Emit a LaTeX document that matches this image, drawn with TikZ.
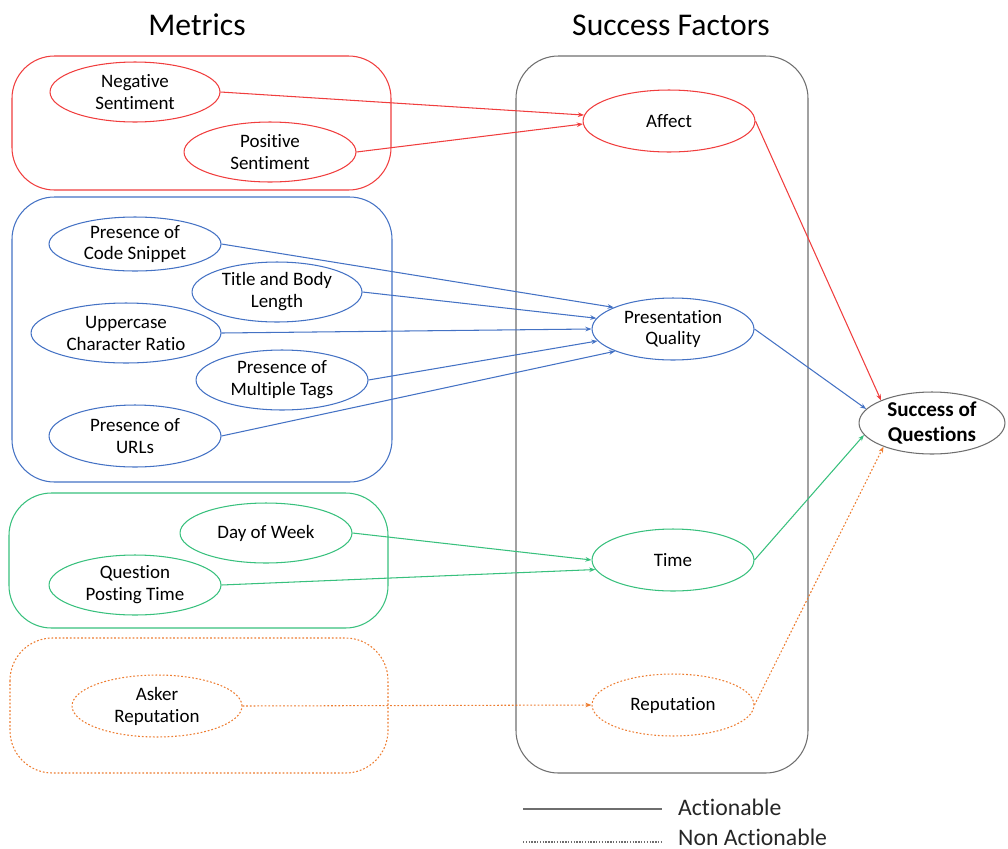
\documentclass[tikz,border=0pt]{standalone}
\usepackage{fontspec}
\setmainfont{Carlito}[Ligatures=NoCommon]
\usetikzlibrary{shapes.geometric,arrows.meta}
\definecolor{cred}{RGB}{240,62,62}
\definecolor{cblue}{RGB}{68,114,196}
\definecolor{cgreen}{RGB}{56,192,125}
\definecolor{corange}{RGB}{237,125,49}
\definecolor{cgray}{RGB}{110,110,110}
\tikzset{
  ell/.style 2 args={ellipse, draw, inner sep=0pt, align=center, line width=0.6pt,
     minimum width=#1*0.04cm, minimum height=#2*0.04cm, text=black,
     font=\fontsize{10.8pt}{12.5pt}\selectfont},
  grp/.style={draw, rounded corners=0.85cm, line width=0.6pt},
  arr/.style={line width=0.6pt, -{Stealth[length=3.5pt,width=2.6pt]}},
  dots/.style={dash pattern=on 1pt off 1.1pt},
  heading/.style={font=\fontsize{18pt}{21pt}\selectfont, text=black},
  legtext/.style={anchor=west, font=\fontsize{13.5pt}{16pt}\selectfont, text=black!85}
}
\begin{document}
\begin{tikzpicture}[x=0.02cm, y=-0.02cm]
\useasboundingbox (0,0) rectangle (1008,849);
% headings
\node[heading] (hm) at (197,25) {Metrics};
\node[heading] (hs) at (671,25) {Success Factors};
% group boxes
\draw[grp, cred] (12,56) rectangle (391,190);
\draw[grp, cblue] (12,197) rectangle (392,482);
\draw[grp, cgreen] (9,493) rectangle (388,628);
\draw[grp, corange, dots] (10,638) rectangle (388,773);
\draw[grp, cgray] (516,56) rectangle (808,773);
% metrics
\node[ell={85}{30}, draw=cred] (neg) at (135,92) {Negative\\Sentiment};
\node[ell={86}{30}, draw=cred] (pos) at (270,152) {Positive\\Sentiment};
\node[ell={86}{27}, draw=cblue] (code) at (135,244) {Presence of\\Code Snippet};
\node[ell={85}{30}, draw=cblue] (title) at (277,292) {Title and Body\\Length};
\node[ell={95}{30}, draw=cblue] (upper) at (126,333) {Uppercase\\Character Ratio};
\node[ell={86}{30}, draw=cblue] (tags) at (282,380) {Presence of\\Multiple Tags};
\node[ell={86}{31}, draw=cblue] (urls) at (135,436) {Presence of\\URLs};
\node[ell={86}{30}, draw=cgreen] (day) at (266,533) {Day of Week};
\node[ell={86}{30}, draw=cgreen] (qpt) at (135,585) {Question\\Posting Time};
\node[ell={85}{31}, draw=corange, dots] (asker) at (157,706) {Asker\\Reputation};
% factors
\node[ell={86}{31}, draw=cred] (aff) at (669,121) {Affect};
\node[ell={81}{31}, draw=cblue] (pq) at (673,329) {Presentation\\Quality};
\node[ell={81}{31}, draw=cgreen] (tm) at (673,560) {Time};
\node[ell={81}{31}, draw=corange, dots] (rep) at (673,705) {Reputation};
\node[ell={73}{31}, draw=cgray, font=\bfseries\fontsize{12pt}{14.5pt}\selectfont] (sq) at (932,423) {Success of\\Questions};
% connectors
\draw[arr, cred] (neg.east) -- (aff.176);
\draw[arr, cred] (pos.east) -- (aff.182);
\draw[arr, cblue] (code.east) -- (pq.160);
\draw[arr, cblue] (title.east) -- (pq.172);
\draw[arr, cblue] (upper.east) -- (pq.180);
\draw[arr, cblue] (tags.east) -- (pq.189);
\draw[arr, cblue] (urls.east) -- (pq.201);
\draw[arr, cgreen] (day.east) -- (tm.180);
\draw[arr, cgreen] (qpt.east) -- (tm.187);
\draw[arr, corange, dots] (asker.east) -- (rep.west);
\draw[arr, cred] (aff.east) -- (sq.156);
\draw[arr, cblue] (pq.east) -- (sq.168);
\draw[arr, cgreen] (tm.east) -- (sq.190);
\draw[arr, corange, dots] (rep.east) -- (sq.206);
% legend
\coordinate (l1a) at (523,809);
\coordinate (l1b) at (662,809);
\coordinate (l2a) at (523,842);
\coordinate (l2b) at (662,842);
\draw[cgray, line width=0.7pt] (l1a) -- (l1b);
\draw[cgray, line width=0.7pt, dash pattern=on 0.8pt off 0.8pt] (l2a) -- (l2b);
\node[legtext] (lt1) at (672,807) {Actionable};
\node[legtext] (lt2) at (672,837) {Non Actionable};
\end{tikzpicture}
\end{document}
